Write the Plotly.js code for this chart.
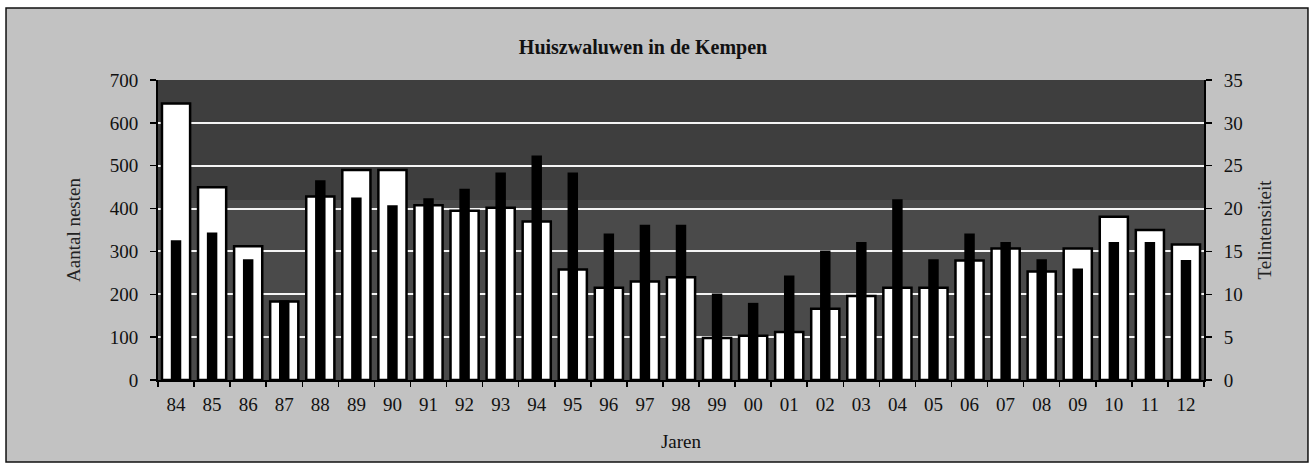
<!DOCTYPE html>
<html>
<head>
<meta charset="utf-8">
<script src="https://cdn.plot.ly/plotly-3.0.1.min.js"></script>
<style>html,body{margin:0;padding:0;background:#fff;}#chart{width:1315px;height:470px;}</style>
</head>
<body>
<div id="chart"></div>
<script>
const jaren = ["84","85","86","87","88","89","90","91","92","93","94","95","96","97","98","99","00","01","02","03","04","05","06","07","08","09","10","11","12"];
const aantalNesten = [645,450,312,183,428,490,490,408,395,402,370,258,215,230,240,98,103,112,166,196,215,215,279,307,253,307,381,350,316];
const telintensiteit = [16.3,17.2,14.1,9.3,23.3,21.3,20.4,21.2,22.3,24.2,26.2,24.2,17.1,18.1,18.1,10.1,9.0,12.2,15.1,16.1,21.1,14.1,17.1,16.1,14.1,13.0,16.1,16.1,14.0];

const font = "Liberation Serif, Times New Roman, serif";
const ink = '#111111';

const traces = [
  {type:'bar', x:jaren, y:aantalNesten, name:'Aantal nesten', width:0.78,
   marker:{color:'#ffffff', line:{color:'#000000', width:2.5}}, yaxis:'y'},
  {type:'bar', x:jaren, y:telintensiteit, name:'Telintensiteit', width:0.29,
   marker:{color:'#000000', line:{width:0}}, yaxis:'y2'}
];

const layout = {
  width:1315, height:470,
  margin:{l:158, r:111, t:80, b:90},
  paper_bgcolor:'#ffffff',
  plot_bgcolor:'#444444',
  barmode:'overlay',
  showlegend:false,
  font:{family:font, size:19, color:ink},
  title:{text:'<b>Huiszwaluwen in de Kempen</b>', font:{family:font, size:20, color:ink},
         x:0.489, xanchor:'center', y:0.9, yanchor:'middle'},
  xaxis:{type:'category', tickson:'boundaries', ticks:'outside', ticklen:5, tickwidth:1.5, tickcolor:'#000',
         showline:true, linecolor:'#000', linewidth:2, showgrid:false, ticklabelstandoff:6,
         tickfont:{family:font, size:19, color:ink},
         title:{text:'Jaren', font:{family:font, size:19, color:ink}, standoff:21}},
  yaxis:{range:[0,700], dtick:100, ticks:'outside', ticklen:6, tickwidth:1.5, tickcolor:'#000',
         showline:true, linecolor:'#000', linewidth:2, showgrid:true, gridcolor:'#f4f4f4', gridwidth:2,
         zeroline:false, ticklabelstandoff:8, tickfont:{family:font, size:19, color:ink},
         title:{text:'Aantal nesten', font:{family:font, size:19, color:'#222'}, standoff:24}},
  yaxis2:{range:[0,35], dtick:5, overlaying:'y', side:'right', ticks:'outside', ticklen:6, tickwidth:1.5, tickcolor:'#000',
          showline:true, linecolor:'#000', linewidth:2, showgrid:false, zeroline:false, ticklabelstandoff:8,
          tickfont:{family:font, size:19, color:ink},
          title:{text:'Telintensiteit', font:{family:font, size:19, color:'#222'}, standoff:16}},
  shapes:[
    {type:'rect', xref:'paper', yref:'paper', x0:-0.1453, x1:1.0994, y0:-0.2733, y1:1.24,
     fillcolor:'#c2c2c2', line:{color:'#111', width:1.5}, layer:'below'},
    {type:'rect', xref:'paper', yref:'paper', x0:0, x1:1, y0:0, y1:1,
     fillcolor:'#4a4a4a', line:{width:0}, layer:'below'},
    {type:'rect', xref:'paper', yref:'paper', x0:0, x1:1, y0:0.6, y1:1,
     fillcolor:'#3e3e3e', line:{width:0}, layer:'below'}
  ]
};

Plotly.newPlot('chart', traces, layout, {displayModeBar:false, staticPlot:true});
</script>
</body>
</html>
